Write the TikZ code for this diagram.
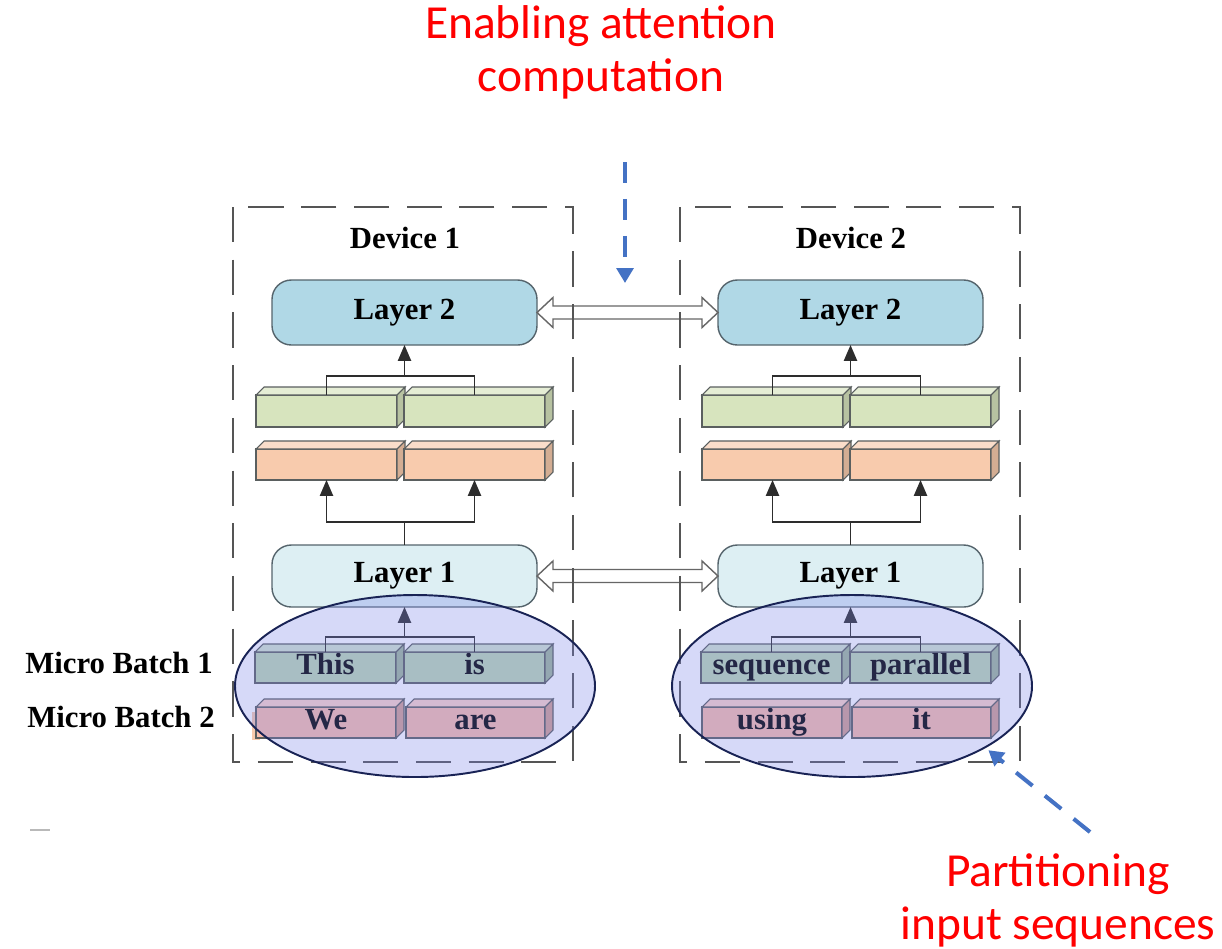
\documentclass[tikz,border=0pt]{standalone}
\usepackage{fontspec}
\setmainfont{Liberation Serif}
\newfontfamily\redfont{Carlito}
\usetikzlibrary{arrows.meta,calc,shapes.geometric}
\definecolor{dashgray}{RGB}{85,85,85}
\definecolor{Ltwo}{RGB}{176,216,230}
\definecolor{Lone}{RGB}{221,239,243}
\definecolor{layerline}{RGB}{85,100,108}
\definecolor{greenbar}{RGB}{215,228,190}
\definecolor{orangebar}{RGB}{248,203,173}
\definecolor{graybar}{RGB}{189,216,179}
\definecolor{pinkbar}{RGB}{250,190,171}
\definecolor{barline}{RGB}{90,95,95}
\definecolor{ellfill}{RGB}{120,130,235}
\definecolor{ellline}{RGB}{25,35,85}
\definecolor{bluearrow}{RGB}{68,114,196}
\definecolor{redtext}{RGB}{255,0,0}
\definecolor{connline}{RGB}{45,45,45}
\newcommand\lbl{\fontsize{17.5}{20}\selectfont\bfseries}
\newcommand\redsize{\fontsize{27}{30.2}\selectfont}
% #1 name, #2 x, #3 y (front top), #4 width, #5 height, #6 colour, #7 text
\newcommand\cubebar[7]{%
  \node[barfront, fill=#6, minimum width=#4*0.02cm, minimum height=#5*0.02cm,
        anchor=north west] (#1) at (#2,#3) {#7};
  \draw[barface, fill=#6!65!white] (#1.north west) -- ++(8,-8) -- ++(#4,0) -- (#1.north east) -- cycle;
  \draw[barface, fill=#6!85!black] (#1.north east) -- ++(8,-8) -- ++(0,#5) -- (#1.south east) -- cycle;
}
\newcommand\dblarrow[2]{%
  \draw[hollowarrow] (#1) -- ($(#1)+(16,-15)$) -- ($(#1)+(16,-6.5)$) -- ($(#2)+(-16,-6.5)$)
    -- ($(#2)+(-16,-15)$) -- (#2) -- ($(#2)+(-16,15)$) -- ($(#2)+(-16,6.5)$)
    -- ($(#1)+(16,6.5)$) -- ($(#1)+(16,15)$) -- cycle;
}
\tikzset{
  devbox/.style={draw=dashgray, line width=1.1pt, dash pattern=on 20pt off 10pt},
  devlabel/.style={font=\lbl, inner sep=0pt},
  layerbox/.style={draw=layerline, line width=0.8pt, rounded corners=11pt, font=\lbl,
        minimum width=265*0.02cm, inner sep=0pt, outer sep=0pt},
  barfront/.style={draw=barline, line width=0.6pt, inner sep=0pt, outer sep=0pt, font=\lbl,
        text height=11.5pt, text depth=3.5pt},
  barface/.style={draw=barline, line width=0.6pt},
  conn/.style={draw=connline, line width=0.8pt},
  arr/.style={conn, -{Triangle[length=9pt,width=7.5pt]}},
  hollowarrow/.style={draw=gray!80!black, line width=0.8pt, fill=white},
  ell/.style={ellipse, draw=ellline, line width=1.1pt, fill=ellfill, fill opacity=0.3,
        draw opacity=1, minimum width=360*0.02cm, minimum height=182*0.02cm, inner sep=0pt},
  bluedash/.style={draw=bluearrow, line width=2.3pt, dash pattern=on 12pt off 9pt,
        -{Triangle[length=8.5pt,width=9.5pt]}},
  redlabel/.style={text=redtext, font=\redfont\redsize, align=center, inner sep=0pt},
  batchlabel/.style={font=\lbl, inner sep=0pt, anchor=base},
}
\begin{document}
\begin{tikzpicture}[x=0.02cm, y=-0.02cm]
\useasboundingbox (0,0) rectangle (1222,948);
\fill[white] (0,0) rectangle (1222,948);

% titles
\node[redlabel, anchor=north] (title) at (601,5) {Enabling attention\\computation};
\node[redlabel, anchor=north] (part) at (1058,853) {Partitioning\\input sequences};

% device labels
\node[devlabel] (dev1) at (405,238) {Device 1};
\node[devlabel] (dev2) at (851,238) {Device 2};

% micro batch labels
\node[batchlabel] (mb1) at (119,673) {Micro Batch 1};
\node[batchlabel] (mb2) at (121,727) {Micro Batch 2};

% layer boxes
\node[layerbox, fill=Ltwo, minimum height=65*0.02cm] (L2a) at (404.5,312.5) {Layer 2};
\node[layerbox, fill=Ltwo, minimum height=65*0.02cm] (L2b) at (850.5,312.5) {Layer 2};
\node[layerbox, fill=Lone, minimum height=62*0.02cm] (L1a) at (404.5,576) {Layer 1};
\node[layerbox, fill=Lone, minimum height=62*0.02cm] (L1b) at (850.5,576) {Layer 1};

% bars, device 1
\cubebar{Ga}{256}{395}{141}{32}{greenbar}{}
\cubebar{Gb}{404}{395}{141}{32}{greenbar}{}
\cubebar{Oa}{256}{449}{141}{31}{orangebar}{}
\cubebar{Ob}{404}{449}{141}{31}{orangebar}{}
\cubebar{Ma}{255}{652}{141}{31}{graybar}{This}
\cubebar{Mb}{404}{652}{141}{31}{graybar}{is}
\fill[orangebar] (252,712) rectangle (260,740);
\cubebar{Pa}{256}{707}{140}{31}{pinkbar}{We}
\cubebar{Pb}{406}{707}{139}{31}{pinkbar}{are}
% bars, device 2
\cubebar{Gc}{702}{395}{141}{32}{greenbar}{}
\cubebar{Gd}{850}{395}{141}{32}{greenbar}{}
\cubebar{Oc}{702}{449}{141}{31}{orangebar}{}
\cubebar{Od}{850}{449}{141}{31}{orangebar}{}
\cubebar{Mc}{701}{652}{141}{31}{graybar}{sequence}
\cubebar{Md}{850}{652}{141}{31}{graybar}{parallel}
\cubebar{Pc}{702}{707}{140}{31}{pinkbar}{using}
\cubebar{Pd}{852}{707}{139}{31}{pinkbar}{it}

% connectors, device 1
\draw[conn] (Ga.north) -- ++(0,-19) -| (Gb.north);
\draw[arr] ($(L2a.south)+(0,31)$) -- (L2a.south);
\coordinate (oba) at ($(L1a.north)+(0,-23)$);
\draw[conn] (L1a.north) -- (oba);
\draw[arr] (oba) -| (Oa.south);
\draw[arr] (oba) -| (Ob.south);
\draw[conn] (Ma.north) -- ++(0,-15) -| (Mb.north);
\draw[arr] ($(L1a.south)+(0,30)$) -- (L1a.south);
% connectors, device 2
\draw[conn] (Gc.north) -- ++(0,-19) -| (Gd.north);
\draw[arr] ($(L2b.south)+(0,31)$) -- (L2b.south);
\coordinate (obb) at ($(L1b.north)+(0,-23)$);
\draw[conn] (L1b.north) -- (obb);
\draw[arr] (obb) -| (Oc.south);
\draw[arr] (obb) -| (Od.south);
\draw[conn] (Mc.north) -- ++(0,-15) -| (Md.north);
\draw[arr] ($(L1b.south)+(0,30)$) -- (L1b.south);

% hollow double arrows between devices
\dblarrow{L2a.east}{L2b.west}
\dblarrow{L1a.east}{L1b.west}

% device frames
\draw[devbox] (233,207) rectangle (573,762);
\draw[devbox] (680,207) rectangle (1020,762);

% ellipses
\node[ell] (E1) at (415,686) {};
\node[ell] (E2) at (852,686) {};

% stray mark
\draw[gray!55, line width=1pt] (30,830) -- (50,830);

% blue dashed arrows
\coordinate (topstart) at (625,162);
\coordinate (topend) at (625,283);
\draw[bluedash] (topstart) -- (topend);
\coordinate (botstart) at (1090,832);
\draw[bluedash] (botstart) -- ($(E2.-25)+(3,2)$);
\end{tikzpicture}
\end{document}
